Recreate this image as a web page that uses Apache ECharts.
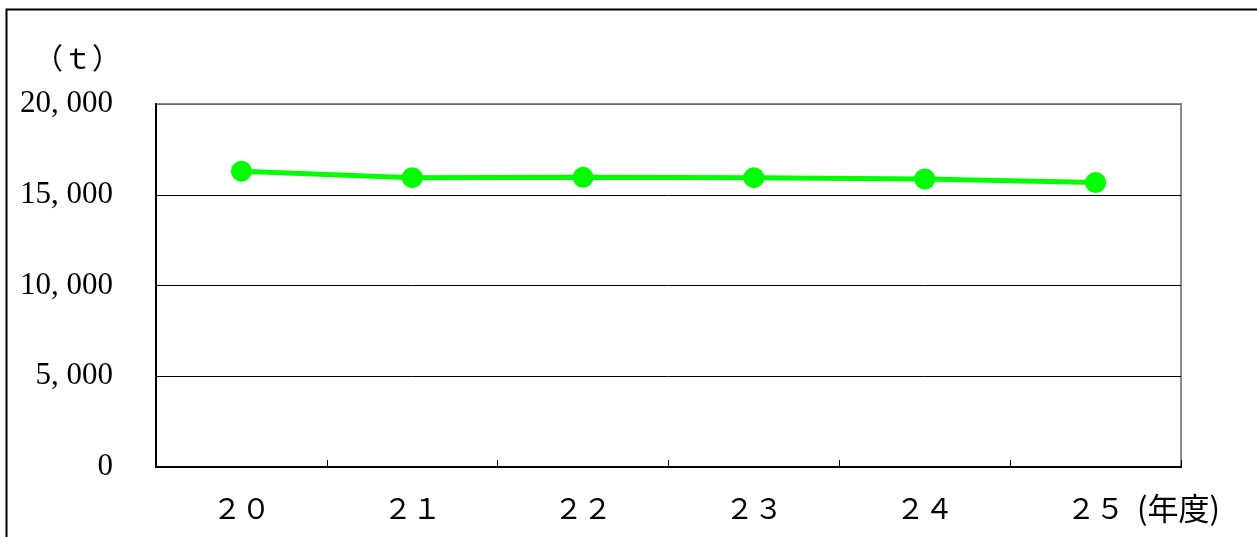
<!DOCTYPE html>
<html><head><meta charset="utf-8">
<script src="https://cdn.jsdelivr.net/npm/echarts@6/dist/echarts.min.js"></script>
<style>html,body{margin:0;padding:0;background:#fff}#c{width:1257px;height:537px}</style>
</head><body><div id="c"></div>
<script>
const categories = ['２０','２１','２２','２３','２４','２５'];
const values = [16300, 15940, 15960, 15940, 15870, 15670];
const yMin = 0, yMax = 20000, yStep = 5000;
const yUnit = '（ｔ）';
const xUnit = '(年度)';

function fmt(v){ return String(v).replace(/\B(?=(\d{3})+(?!\d))/g, ', '); }

const chart = echarts.init(document.getElementById('c'), null, {renderer:'canvas'});
chart.setOption({
  animation:false,
  backgroundColor:'#fff',
  grid:{left:156, top:104, right:76, bottom:70, show:true, borderColor:'#8a8a8a', borderWidth:2, backgroundColor:'transparent'},
  graphic:[
    {type:'rect', shape:{x:6.5, y:9.5, width:1270, height:560}, style:{fill:'none', stroke:'#000', lineWidth:2}, silent:true},
    {type:'text', left:34, top:43, style:{text:yUnit, font:'29px "Noto Sans CJK JP"', fill:'#000'}},
    {type:'text', left:1137, top:493, style:{text:xUnit, font:'31px "Noto Sans CJK JP"', fill:'#000'}}
  ],
  xAxis:{
    type:'category', data:categories, boundaryGap:true,
    axisLine:{show:true, lineStyle:{color:'#000', width:2}},
    axisTick:{show:true, inside:true, length:7, lineStyle:{color:'#000', width:1}},
    axisLabel:{color:'#000', fontSize:29, fontFamily:'"Noto Sans CJK JP"', margin:26},
    splitLine:{show:false}
  },
  yAxis:{
    type:'value', min:yMin, max:yMax, interval:yStep,
    axisLine:{show:true, lineStyle:{color:'#000', width:2}},
    axisTick:{show:false},
    axisLabel:{color:'#000', fontSize:31, fontFamily:'"Liberation Serif"', margin:43, formatter:fmt},
    splitLine:{show:true, lineStyle:{color:['#000','#000','#000','#000','#6a6a6a'], width:1}}
  },
  series:[{
    type:'line', data:values,
    symbol:'circle', symbolSize:21,
    lineStyle:{color:'#00ff00', width:5},
    itemStyle:{color:'#00ff00'}
  }]
});
</script></body></html>
